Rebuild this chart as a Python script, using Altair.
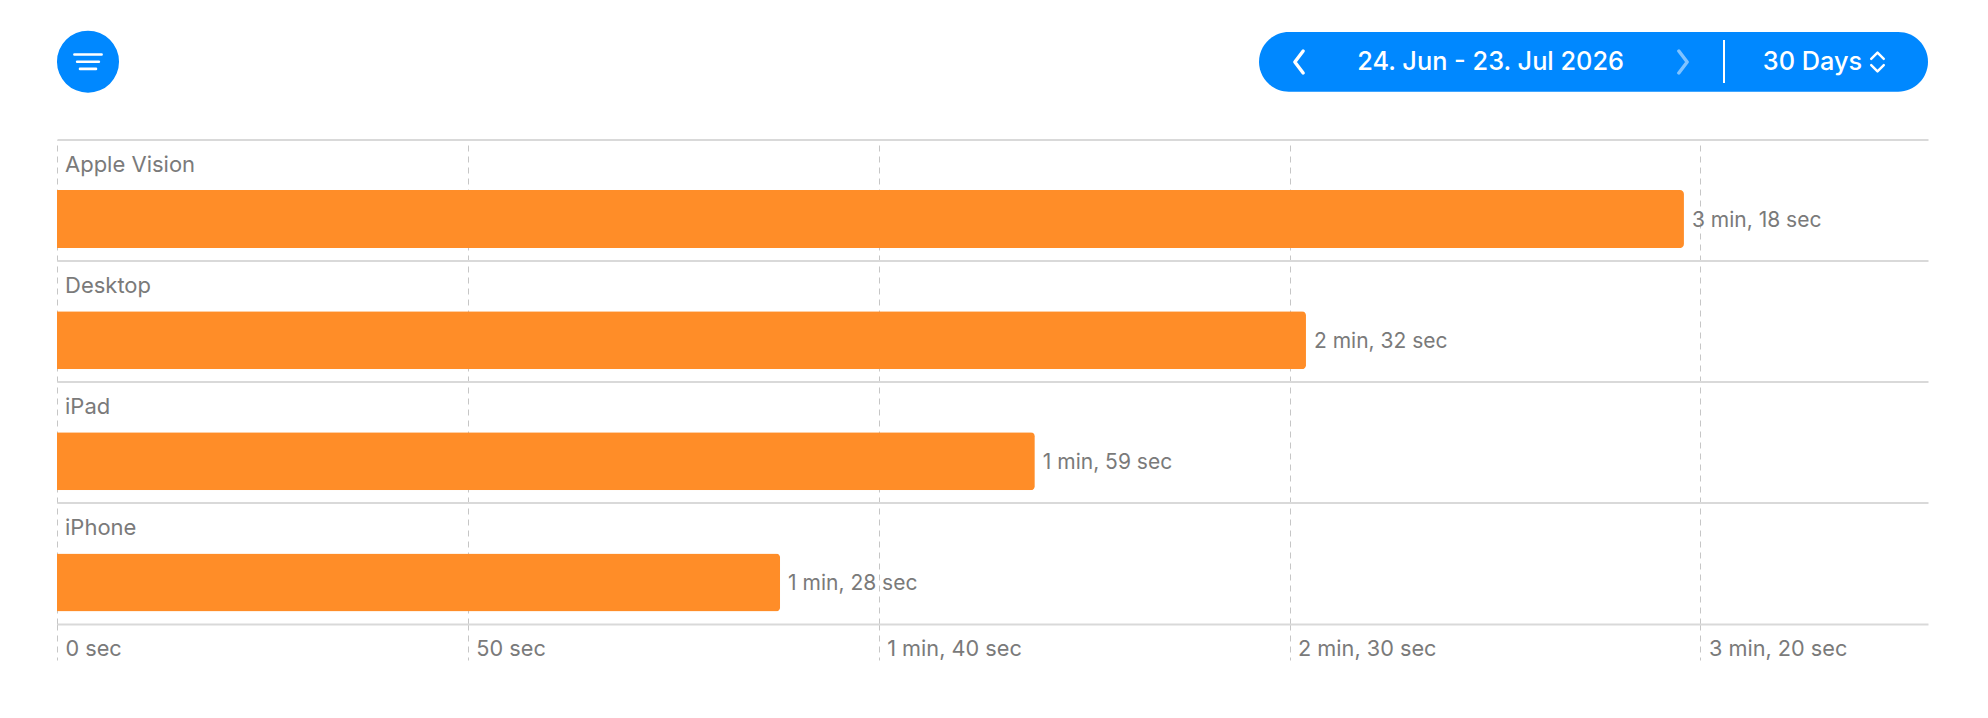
import altair as alt
import pandas as pd

# ---- data ----
devices = ["Apple Vision", "Desktop", "iPad", "iPhone"]
seconds = [198, 152, 119, 88]
tick_values = [0, 50, 100, 150, 200]
x_max = 227.7
date_range = "24. Jun - 23. Jul 2026"
period = "30 Days"

ORANGE = "#FF8D28"
BLUE = "#0088FF"
GRAY_TEXT = "#7a7a7a"
FONT = "Inter"

df = pd.DataFrame({"device": devices, "seconds": seconds})

fmt = ("datum.seconds < 60 ? datum.seconds + ' sec' : "
       "floor(datum.seconds / 60) + ' min, ' + (datum.seconds % 60) + ' sec'")
axis_fmt = ("datum.value < 60 ? datum.value + ' sec' : "
            "floor(datum.value / 60) + ' min, ' + (datum.value % 60) + ' sec'")

x_enc = alt.X(
    "seconds:Q",
    scale=alt.Scale(domain=[0, x_max], nice=False, zero=True),
    axis=alt.Axis(
        values=tick_values, labelExpr=axis_fmt, title=None,
        grid=True, gridDash=[6, 5], gridColor="#c6c6c6", gridWidth=1,
        ticks=True, tickDash=[6, 5], tickColor="#c6c6c6", tickSize=36, tickWidth=1,
        domain=True, domainColor="#d9d9d9", domainWidth=2,
        labelAlign="left", labelBaseline="middle", labelPadding=-12, labelOffset=8,
        labelFlush=False, labelOverlap=False,
        labelFont=FONT, labelFontSize=21.7, labelColor=GRAY_TEXT,
    ),
)
y_enc = alt.Y(
    "device:N", sort=devices, title=None,
    scale=alt.Scale(paddingInner=0, paddingOuter=0),
    axis=alt.Axis(grid=True, bandPosition=0, gridColor="#d9d9d9", gridWidth=2,
                  domain=False, ticks=False, labels=False),
)

base = alt.Chart(df).encode(x=x_enc, y=y_enc)

bars = base.mark_bar(size=58, yOffset=19, cornerRadiusEnd=4, color=ORANGE)

values = base.transform_calculate(label=fmt).mark_text(
    align="left", baseline="middle", dx=8, dy=20.5,
    font=FONT, fontSize=21, color=GRAY_TEXT,
).encode(text="label:N")

names = base.mark_text(
    align="left", baseline="middle", dx=8, dy=-35.5,
    font=FONT, fontSize=22, color=GRAY_TEXT,
).encode(x=alt.X(datum=0), text="device:N")

# ---- header decorations (UI controls) ----
one = alt.Data(values=[{"a": 1}])

filter_circle = alt.Chart(one).mark_point(
    shape="circle", filled=True, size=3850, color=BLUE, opacity=1
).encode(x=alt.value(31), y=alt.value(-77.8))

filter_icon = alt.Chart(one).mark_point(
    shape="M -0.85 -0.45 L 0.85 -0.45 M -0.68 0 L 0.68 0 M -0.5 0.45 L 0.5 0.45",
    filled=False, size=1024, color="white", strokeWidth=2.6,
    strokeCap="round", opacity=1,
).encode(x=alt.value(31), y=alt.value(-77.8))

pill = alt.Chart(one).mark_rect(color=BLUE, cornerRadius=30).encode(
    x=alt.value(1202), x2=alt.value(1871), y=alt.value(-107.5), y2=alt.value(-47.8)
)

divider = alt.Chart(one).mark_rule(color="white", strokeWidth=2).encode(
    x=alt.value(1667), y=alt.value(-99.5), y2=alt.value(-56.5)
)

chev_left = alt.Chart(one).mark_point(
    shape="M 0.38 -1 L -0.38 0 L 0.38 1", filled=False, size=480,
    color="white", strokeWidth=3.4, strokeCap="round", strokeJoin="round", opacity=1,
).encode(x=alt.value(1242), y=alt.value(-77.5))

chev_right = alt.Chart(one).mark_point(
    shape="M -0.38 -1 L 0.38 0 L -0.38 1", filled=False, size=480,
    color="white", strokeWidth=3.4, strokeCap="round", strokeJoin="round", opacity=0.5,
).encode(x=alt.value(1626), y=alt.value(-77.5))

updown = alt.Chart(one).mark_point(
    shape="M -0.6 -0.3 L 0 -0.9 L 0.6 -0.3 M -0.6 0.3 L 0 0.9 L 0.6 0.3",
    filled=False, size=440, color="white", strokeWidth=2.4,
    strokeCap="round", strokeJoin="round", opacity=1,
).encode(x=alt.value(1820.5), y=alt.value(-77.5))

date_text = alt.Chart(one).mark_text(
    font=FONT, fontSize=25.3, fontWeight=500, color="white",
    align="center", baseline="middle",
).encode(x=alt.value(1433.6), y=alt.value(-77.5), text=alt.value(date_range))

period_text = alt.Chart(one).mark_text(
    font=FONT, fontSize=25.3, fontWeight=500, color="white",
    align="center", baseline="middle",
).encode(x=alt.value(1755.5), y=alt.value(-77.5), text=alt.value(period))

chart = alt.layer(
    bars, values, names,
    pill, divider, chev_left, chev_right, updown, date_text, period_text,
    filter_circle, filter_icon,
).properties(
    width=1871, height=484.5,
    autosize=alt.AutoSizeParams(type="none"),
    padding={"left": 57, "top": 139.5, "right": 60, "bottom": 94},
    background="white",
).configure_view(stroke=None)

chart.save("out.html", embed_options={"renderer": "svg", "actions": False})
